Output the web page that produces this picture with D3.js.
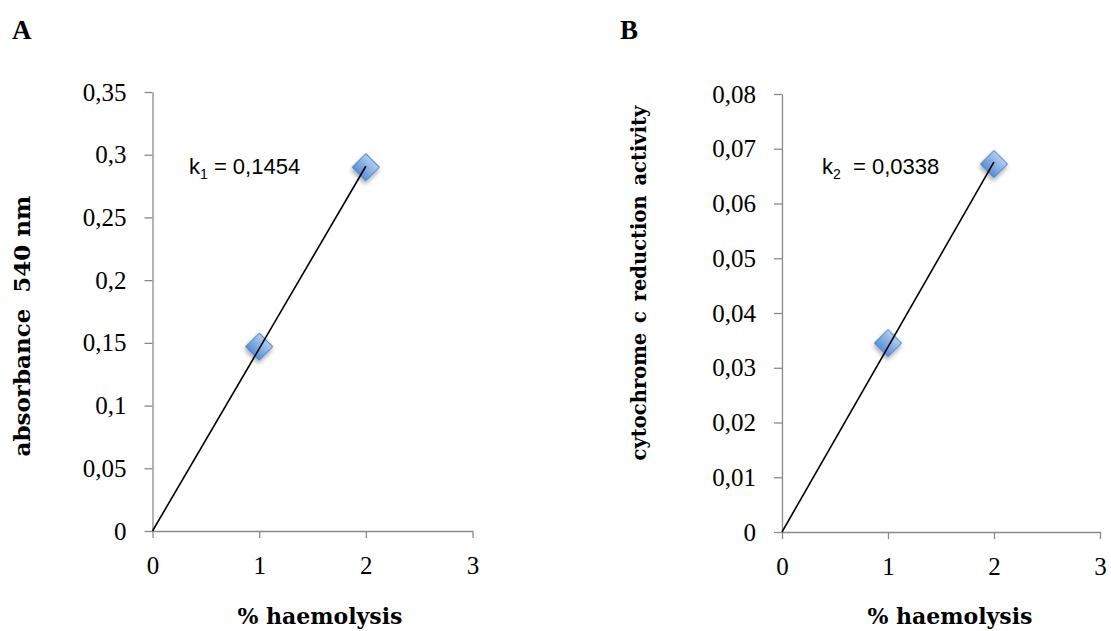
<!DOCTYPE html>
<html><head><meta charset="utf-8">
<script src="https://cdn.jsdelivr.net/npm/d3@7"></script>
<style>
body{margin:0;background:#fff;}
svg{display:block;}
.tick text{font-family:"Liberation Serif",serif;font-size:25px;fill:#000;}
</style></head>
<body>
<svg id="chart" width="1111" height="631"></svg>
<script>
// ---- data ----
const xTickValues = [0, 1, 2, 3];
const xTickLabels = ["0", "1", "2", "3"];

const yTickValuesA = [0, 0.05, 0.1, 0.15, 0.2, 0.25, 0.3, 0.35];
const yTickLabelsA = ["0", "0,05", "0,1", "0,15", "0,2", "0,25", "0,3", "0,35"];
const haemolysisA = [1, 2];
const absorbanceA = [0.147, 0.290];
const slopeA = 0.1454;

const yTickValuesB = [0, 0.01, 0.02, 0.03, 0.04, 0.05, 0.06, 0.07, 0.08];
const yTickLabelsB = ["0", "0,01", "0,02", "0,03", "0,04", "0,05", "0,06", "0,07", "0,08"];
const haemolysisB = [1, 2];
const cytochromeB = [0.0345, 0.0672];
const slopeB = 0.0338;

const svg = d3.select("#chart");
svg.append("rect").attr("width", 1111).attr("height", 631).attr("fill", "#fff");

const defs = svg.append("defs");
const grad = defs.append("linearGradient").attr("id", "dgrad")
  .attr("x1", 0).attr("y1", 0).attr("x2", 0).attr("y2", 1);
grad.append("stop").attr("offset", "0%").attr("stop-color", "#b3cdf0");
grad.append("stop").attr("offset", "100%").attr("stop-color", "#5a8fd6");
const f = defs.append("filter").attr("id", "shadow").attr("x", "-50%").attr("y", "-50%").attr("width", "200%").attr("height", "200%");
f.append("feDropShadow").attr("dx", 1.5).attr("dy", 2.5).attr("stdDeviation", 2)
  .attr("flood-color", "#000").attr("flood-opacity", 0.35);

function panel(cfg) {
  const x = d3.scaleLinear().domain([0, 3]).range(cfg.xRange);
  const y = d3.scaleLinear().domain([0, cfg.yMax]).range(cfg.yRange);
  const g = svg.append("g");

  const ya = g.append("g").attr("transform", `translate(${cfg.xRange[0]},0)`)
    .call(d3.axisLeft(y).tickValues(cfg.yTicks).tickFormat((d, i) => cfg.yLabels[i])
      .tickSize(8).tickSizeOuter(0).tickPadding(18));
  const xa = g.append("g").attr("transform", `translate(0,${cfg.yRange[0]})`)
    .call(d3.axisBottom(x).tickValues(xTickValues).tickFormat((d, i) => xTickLabels[i])
      .tickSize(7).tickSizeOuter(0).tickPadding(18));
  [ya, xa].forEach(a => {
    a.select(".domain").attr("stroke", "#8a8a8a").attr("stroke-width", 1.3);
    a.selectAll(".tick line").attr("stroke", "#8a8a8a").attr("stroke-width", 1.3);
  });

  const pts = cfg.xs.map((v, i) => [v, cfg.ys[i]]);
  const sym = d3.symbol().type(d3.symbolSquare).size(370);
  g.selectAll("path.pt").data(pts).join("path").attr("class", "pt")
    .attr("d", sym)
    .attr("transform", d => `translate(${x(d[0])},${y(d[1])}) rotate(45)`)
    .attr("fill", "url(#dgrad)").attr("stroke", "#4f81c4").attr("stroke-width", 1)
    .attr("filter", "url(#shadow)");

  const xEnd = d3.max(cfg.xs);
  g.append("line")
    .attr("x1", x(0)).attr("y1", y(0))
    .attr("x2", x(xEnd)).attr("y2", y(cfg.slope * xEnd))
    .attr("stroke", "#000").attr("stroke-width", 1.6);

  // slope label
  const t = g.append("text").attr("x", cfg.kx).attr("y", 174)
    .style("font-family", "'Liberation Sans', Arial, sans-serif").style("font-size", "22px")
    .style("white-space", "pre").attr("fill", "#000");
  t.append("tspan").text("k");
  t.append("tspan").attr("dy", 5).style("font-size", "14px").text(cfg.kSub);
  t.append("tspan").attr("dy", -5).text(cfg.kText);

  // axis titles
  g.append("text").attr("x", cfg.xTitleX).attr("y", 624).attr("text-anchor", "middle")
    .style("font-family", "'DejaVu Serif', serif").style("font-weight", "bold").style("font-size", "22px")
    .text("% haemolysis");
  g.append("text").attr("transform", `translate(${cfg.yTitleX},${cfg.yTitleY}) rotate(-90)`)
    .attr("text-anchor", "middle").style("white-space", "pre")
    .style("word-spacing", cfg.yTitleWordSpacing + "px")
    .style("font-family", "'DejaVu Serif', serif").style("font-weight", "bold").style("font-size", cfg.yTitleSize + "px")
    .text(cfg.yTitle);

  // panel letter
  g.append("text").attr("x", cfg.letterX).attr("y", 39)
    .style("font-family", "'Liberation Serif', serif").style("font-weight", "bold").style("font-size", "27px")
    .text(cfg.letter);
}

panel({
  xRange: [152.5, 472.5], yRange: [531, 92], yMax: 0.35,
  yTicks: yTickValuesA, yLabels: yTickLabelsA,
  xs: haemolysisA, ys: absorbanceA, slope: slopeA,
  kx: 189, kSub: "1", kText: " = 0,1454",
  xTitleX: 320, yTitleX: 30, yTitleY: 326, yTitleSize: 23, yTitleWordSpacing: 0,
  yTitle: "absorbance  540 nm", letter: "A", letterX: 12
});
panel({
  xRange: [782, 1100], yRange: [532, 94], yMax: 0.08,
  yTicks: yTickValuesB, yLabels: yTickLabelsB,
  xs: haemolysisB, ys: cytochromeB, slope: slopeB,
  kx: 822, kSub: "2", kText: "  = 0,0338",
  xTitleX: 950, yTitleX: 646, yTitleY: 283, yTitleSize: 19.5, yTitleWordSpacing: 3,
  yTitle: "cytochrome c reduction activity", letter: "B", letterX: 620
});
</script>
</body></html>
